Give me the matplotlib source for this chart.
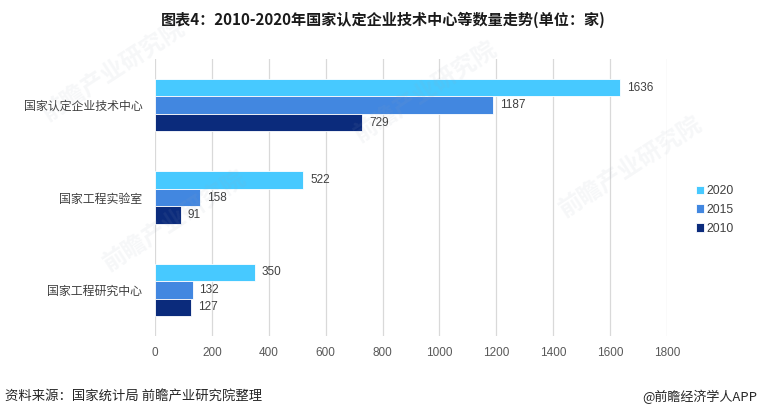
import matplotlib
matplotlib.use("Agg")
import matplotlib.pyplot as plt
import numpy as np

plt.rcParams['font.family'] = ['Noto Sans CJK SC', 'DejaVu Sans']

categories = ["国家认定企业技术中心", "国家工程实验室", "国家工程研究中心"]
years = ["2020", "2015", "2010"]
values_2020 = [1636, 522, 350]
values_2015 = [1187, 158, 132]
values_2010 = [729, 91, 127]
series = [values_2020, values_2015, values_2010]
colors = ["#47C9FF", "#4287E0", "#0B2B7C"]
xticks = [0, 200, 400, 600, 800, 1000, 1200, 1400, 1600, 1800]

fig = plt.figure(figsize=(7.6, 4.17), dpi=100)
ax = fig.add_axes([0.2039, 0.1942, 0.6737, 0.6643])

num_font = ["Liberation Sans", "DejaVu Sans"]
y = np.arange(len(categories))
h = 0.19
for i, (vals, col, yr) in enumerate(zip(series, colors, years)):
    pos = y + (i - 1) * h
    ax.barh(pos, vals, height=h, color=col, edgecolor="white", linewidth=0.6,
            label=yr, zorder=3)
    for p, v in zip(pos, vals):
        ax.annotate(str(v), (v, p), xytext=(5, 0), textcoords="offset points",
                    va="center", ha="left", fontsize=8.5, color="#404040",
                    family=num_font)

ax.set_ylim(2.5, -0.5)
ax.set_xlim(0, 1800)
ax.set_xticks(xticks)
ax.set_xticklabels([str(t) for t in xticks], family=num_font)
ax.set_yticks(y)
ax.set_yticklabels(categories)
ax.tick_params(axis="x", length=0, labelsize=8.5, labelcolor="#595959", pad=8)
ax.tick_params(axis="y", length=0, labelsize=8.6, labelcolor="#404040", pad=9)
ax.grid(axis="x", color="#D9D9D9", linewidth=0.9, zorder=0)
for s in ax.spines.values():
    s.set_visible(False)

leg = ax.legend(loc="center left", bbox_to_anchor=(1.035, 0.455), frameon=False,
                handlelength=0.7, handleheight=0.7, handletextpad=0.2,
                labelspacing=0.55, prop={"family": num_font, "size": 8.8})
for t in leg.get_texts():
    t.set_color("#404040")

fig.text(383 / 760, 0.952, "图表4：2010-2020年国家认定企业技术中心等数量走势(单位：家)",
         ha="center", va="center", fontsize=10.9, fontweight="bold", color="#1a1a1a")
fig.text(0.007, 0.048, "资料来源：国家统计局 前瞻产业研究院整理", ha="left", va="center",
         fontsize=9.6, color="#262626")
fig.text(0.997, 0.048, "@前瞻经济学人APP", ha="right", va="center",
         fontsize=9.4, color="#262626")

# faint watermarks
for (wx, wy) in [(0.15, 0.83), (0.56, 0.78), (0.83, 0.60), (0.23, 0.47)]:
    fig.text(wx, wy, "前瞻产业研究院", ha="center", va="center", rotation=33,
             fontsize=17, fontweight="bold", color="#9AA6B8", alpha=0.09, zorder=10)

fig.savefig("out.png", dpi=100)
